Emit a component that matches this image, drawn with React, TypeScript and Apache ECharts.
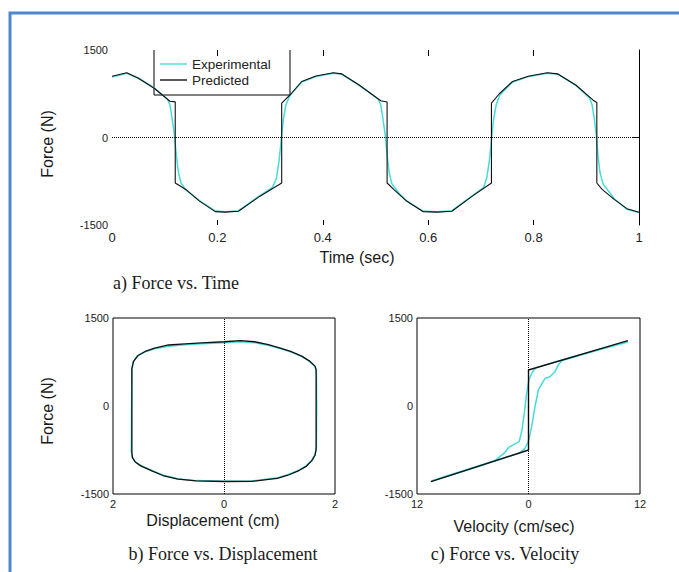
import React, { useEffect, useRef } from 'react';
import * as echarts from 'echarts';

const legendNames = ['Experimental', 'Predicted'];

// a) Force vs. Time  [time (sec), force (N)]
const timePredicted: number[][] = [
  [0, 1050], [0.028, 1110], [0.05, 1015], [0.08, 845], [0.11, 622], [0.12, 610],
  [0.12, -780], [0.14, -890], [0.166, -1090], [0.196, -1270], [0.215, -1280], [0.24, -1265],
  [0.28, -1010], [0.322, -780], [0.322, 590], [0.34, 750], [0.36, 960], [0.387, 1055],
  [0.42, 1110], [0.436, 1090], [0.469, 900], [0.51, 630], [0.522, 610],
  [0.522, -780], [0.535, -895], [0.559, -1090], [0.59, -1270], [0.617, -1280], [0.645, -1265],
  [0.683, -1010], [0.72, -780], [0.72, 590], [0.735, 750], [0.76, 960], [0.79, 1050],
  [0.826, 1110], [0.846, 1090], [0.88, 900], [0.913, 640], [0.92, 600],
  [0.92, -780], [0.93, -890], [0.953, -1060], [0.977, -1220], [1.0, -1280],
];

const timeExperimental: number[][] = [
  [0, 1035], [0.028, 1100], [0.05, 1020], [0.08, 850], [0.105, 660], [0.11, 560],
  [0.114, 330], [0.1185, 40], [0.122, -300], [0.126, -600], [0.131, -780], [0.14, -900],
  [0.166, -1080], [0.196, -1260], [0.215, -1272], [0.24, -1255], [0.28, -1000], [0.305, -850],
  [0.312, -700], [0.317, -400], [0.321, -50], [0.325, 300], [0.33, 560], [0.338, 730],
  [0.36, 950], [0.387, 1045], [0.42, 1100], [0.436, 1085], [0.469, 895],
  [0.505, 660], [0.51, 560], [0.514, 330], [0.5185, 40], [0.522, -300], [0.526, -600],
  [0.531, -790], [0.545, -960], [0.559, -1085], [0.59, -1262], [0.617, -1272], [0.645, -1255],
  [0.683, -1005], [0.705, -860], [0.711, -700], [0.716, -400], [0.72, -50], [0.724, 300],
  [0.729, 560], [0.736, 730], [0.76, 950], [0.79, 1045], [0.826, 1100],
  [0.846, 1085], [0.88, 895], [0.906, 680], [0.911, 560], [0.915, 330], [0.919, 40],
  [0.922, -300], [0.926, -600], [0.932, -800], [0.945, -950], [0.953, -1050], [0.977, -1230],
  [1.0, -1285],
];

// b) Force vs. Displacement  [displacement (cm), force (N)]
const dispPredicted: number[][] = [
  [-1.66, -800], [-1.66, 640], [-1.63, 760], [-1.55, 860], [-1.42, 930], [-1.25, 985],
  [-1.0, 1040], [-0.7, 1060], [-0.4, 1075], [0, 1095], [0.3, 1115], [0.55, 1095],
  [0.8, 1045], [1.0, 990], [1.2, 930], [1.4, 850], [1.55, 760], [1.64, 680],
  [1.66, 620], [1.66, -740], [1.64, -840], [1.58, -935], [1.48, -1030], [1.35, -1100],
  [1.15, -1180], [0.96, -1235], [0.5, -1285], [0, -1287], [-0.5, -1275], [-0.83, -1246],
  [-1.1, -1185], [-1.3, -1105], [-1.5, -1020], [-1.6, -955], [-1.65, -880], [-1.66, -800],
];

const dispExperimental: number[][] = [
  [-1.67, -780], [-1.665, 0], [-1.66, 600], [-1.64, 740], [-1.57, 850], [-1.42, 925],
  [-1.25, 975], [-1.0, 1020], [-0.7, 1045], [-0.4, 1060], [0, 1080], [0.3, 1095],
  [0.55, 1080], [0.8, 1030], [1.0, 985], [1.2, 925], [1.4, 845], [1.55, 755],
  [1.64, 670], [1.665, 560], [1.67, 0], [1.665, -700], [1.64, -830], [1.58, -925],
  [1.48, -1020], [1.35, -1095], [1.15, -1170], [0.96, -1225], [0.5, -1280], [0, -1282],
  [-0.5, -1272], [-0.83, -1240], [-1.1, -1180], [-1.3, -1100], [-1.5, -1015], [-1.6, -950],
  [-1.65, -870], [-1.67, -780],
];

// c) Force vs. Velocity  [velocity (cm/sec), force (N)]
const velPredicted: number[][] = [
  [-10.5, -1290], [0, -750], [0, 614], [10.7, 1115],
];

const velExperimental: number[][] = [
  [10.7, 1090], [8, 975], [6, 885], [4.5, 815], [3.6, 775], [3.2, 700],
  [2.85, 585], [2.3, 500], [1.78, 472], [1.06, 273], [0.7, -12], [0.34, -353],
  [0, -600], [-0.38, -722], [-0.9, -795], [-3, -905], [-6, -1060], [-9, -1212],
  [-10.5, -1282], [-9, -1200], [-6, -1050], [-3.6, -930], [-2.6, -800], [-2.1, -700],
  [-1.0, -608], [-0.7, -409], [-0.45, -120], [-0.2, 220], [0.04, 443], [0.43, 585],
  [0.8, 650], [2, 710], [4, 800], [6, 890], [9, 1020], [10.7, 1090],
];

const timeRange = [0, 1];
const timeStep = 0.2;
const timeInnerTicks = [0.2, 0.4, 0.6, 0.8];
const forceRange = [-1500, 1500];
const forceStep = 1500;
const dispRange = [-2, 2];
const velRange = [-12, 12];

const CYAN = '#45dcdc';
const BLACK = '#111111';
const SANS = '"Liberation Sans", Arial, sans-serif';
const SERIF = '"Liberation Serif", "Times New Roman", serif';

export default function App() {
  const ref = useRef<HTMLDivElement>(null);

  useEffect(() => {
    document.body.style.margin = '0';
    if (!ref.current) return;
    const chart = echarts.init(ref.current, undefined, { renderer: 'svg' });

    const tickLabel = { fontSize: 11, color: '#222', fontFamily: SANS };
    const plain = (v: number) => String(v);
    const dotted = (axis: 'x' | 'y') => ({
      silent: true,
      symbol: ['none', 'none'],
      label: { show: false },
      lineStyle: { type: 'dotted', color: '#000', width: 1 },
      data: [axis === 'x' ? { xAxis: 0 } : { yAxis: 0 }],
    });
    const forceAxis = (gridIndex: number) => ({
      type: 'value', gridIndex, min: forceRange[0], max: forceRange[1], interval: forceStep,
      axisLine: { show: false, onZero: false }, axisTick: { show: false }, splitLine: { show: false },
      axisLabel: { ...tickLabel, margin: 4, formatter: plain },
    });
    const text = (t: string, x: number, y: number, size: number, family: string, align = 'center', rotation = 0) => ({
      type: 'text', x, y, rotation,
      style: {
        text: t, fontSize: size, fontFamily: family, fill: '#1a1a1a',
        textAlign: align, textVerticalAlign: 'middle', align, verticalAlign: 'middle',
      },
    });

    chart.setOption({
      animation: false,
      backgroundColor: '#ffffff',
      grid: [
        { left: 112, top: 50, width: 527, height: 175 },
        { left: 113, top: 318, width: 222, height: 176, show: true, borderColor: '#000', borderWidth: 1, backgroundColor: 'transparent' },
        { left: 417, top: 318, width: 223, height: 176, show: true, borderColor: '#000', borderWidth: 1, backgroundColor: 'transparent' },
      ],
      legend: {
        data: legendNames,
        left: 160, top: 57, padding: 0, orient: 'vertical', itemGap: 2,
        itemWidth: 27, itemHeight: 14,
        icon: 'path://M0,13 L27,13 L27,14.4 L0,14.4 Z',
        textStyle: { fontSize: 13.5, color: '#222', fontFamily: SANS },
      },
      xAxis: [
        {
          type: 'value', gridIndex: 0, min: timeRange[0], max: timeRange[1], interval: timeStep,
          axisLine: { show: false, onZero: false }, splitLine: { show: false },
          axisTick: { show: true, inside: true, length: 5, customValues: timeInnerTicks, lineStyle: { color: '#000' } },
          axisLabel: { fontSize: 13, color: '#222', fontFamily: SANS, margin: 6 },
        },
        {
          type: 'value', gridIndex: 0, position: 'top', min: timeRange[0], max: timeRange[1], interval: timeStep,
          axisLine: { show: false, onZero: false }, splitLine: { show: false }, axisLabel: { show: false },
          axisTick: { show: true, inside: true, length: 6, customValues: timeInnerTicks, lineStyle: { color: '#000' } },
        },
        {
          type: 'value', gridIndex: 1, min: dispRange[0], max: dispRange[1], interval: 2,
          axisLine: { show: false, onZero: false }, axisTick: { show: false }, splitLine: { show: false },
          axisLabel: { ...tickLabel, margin: 4, formatter: (v: number) => String(Math.abs(v)) },
        },
        {
          type: 'value', gridIndex: 2, min: velRange[0], max: velRange[1], interval: 12,
          axisLine: { show: false, onZero: false }, axisTick: { show: false }, splitLine: { show: false },
          axisLabel: { ...tickLabel, margin: 4, formatter: (v: number) => String(Math.abs(v)) },
        },
      ],
      yAxis: [
        forceAxis(0),
        {
          type: 'value', gridIndex: 0, position: 'right', min: forceRange[0], max: forceRange[1], interval: forceStep,
          axisLine: { show: true, onZero: false, lineStyle: { color: '#000', width: 1 } },
          axisTick: { show: true, inside: true, length: 7, customValues: [0], lineStyle: { color: '#000' } },
          axisLabel: { show: false }, splitLine: { show: false },
        },
        forceAxis(1),
        forceAxis(2),
      ],
      series: [
        { name: 'Experimental', type: 'line', xAxisIndex: 0, yAxisIndex: 0, data: timeExperimental, symbol: 'none', color: CYAN, lineStyle: { width: 1.5, color: CYAN }, markLine: dotted('y'), z: 2 },
        { name: 'Predicted', type: 'line', xAxisIndex: 0, yAxisIndex: 0, data: timePredicted, symbol: 'none', color: BLACK, lineStyle: { width: 1.1, color: BLACK }, z: 3 },
        { name: 'Experimental', type: 'line', xAxisIndex: 2, yAxisIndex: 2, data: dispExperimental, symbol: 'none', color: CYAN, lineStyle: { width: 1.5, color: CYAN }, markLine: dotted('x'), z: 2 },
        { name: 'Predicted', type: 'line', xAxisIndex: 2, yAxisIndex: 2, data: dispPredicted, symbol: 'none', color: BLACK, lineStyle: { width: 1.3, color: BLACK }, z: 3 },
        { name: 'Experimental', type: 'line', xAxisIndex: 3, yAxisIndex: 3, data: velExperimental, symbol: 'none', color: CYAN, lineStyle: { width: 1.5, color: CYAN }, markLine: dotted('x'), z: 2 },
        { name: 'Predicted', type: 'line', xAxisIndex: 3, yAxisIndex: 3, data: velPredicted, symbol: 'none', color: BLACK, lineStyle: { width: 1.4, color: BLACK }, z: 3 },
      ],
      graphic: [
        { type: 'rect', shape: { x: 10, y: 13, width: 700, height: 600 }, style: { fill: 'none', stroke: '#4f86d0', lineWidth: 3 }, silent: true },
        { type: 'polyline', shape: { points: [[154, 50], [154, 95], [290, 95], [290, 50]] }, style: { fill: 'none', stroke: '#000', lineWidth: 1 }, silent: true },
        text('Time (sec)', 357, 257, 16, SANS),
        text('Force (N)', 47, 144, 16, SANS, 'center', Math.PI / 2),
        text('Force (N)', 47, 411, 16, SANS, 'center', Math.PI / 2),
        text('Displacement (cm)', 213, 520, 16, SANS),
        text('Velocity (cm/sec)', 514, 526, 16, SANS),
        text('a) Force vs. Time', 113, 283, 18, SERIF, 'left'),
        text('b) Force vs. Displacement', 223, 554, 18, SERIF),
        text('c) Force vs. Velocity', 505, 554, 18, SERIF),
      ],
    });

    return () => chart.dispose();
  }, []);

  return <div ref={ref} style={{ width: 679, height: 572 }} />;
}
